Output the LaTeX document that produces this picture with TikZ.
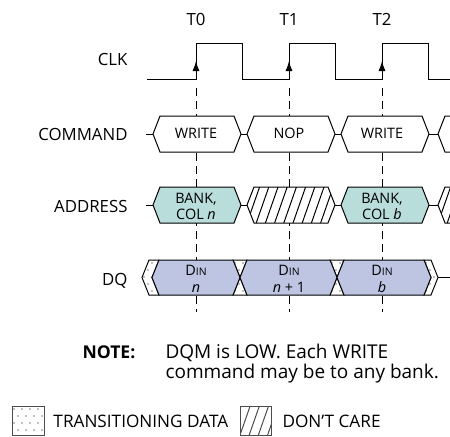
\documentclass[tikz,border=0pt]{standalone}
\usepackage{fontspec}
\setmainfont{Open Sans}
\usetikzlibrary{calc,arrows.meta}

\definecolor{addrfill}{RGB}{185,221,219}
\definecolor{dqfill}{RGB}{189,197,226}

\begin{document}
\begin{tikzpicture}[x=0.5pt,y=-0.5pt,line width=0.5pt,
    lbl/.style={font=\fontsize{8.4}{10}\selectfont, inner sep=0pt},
    intext/.style={font=\fontsize{7.2}{8}\selectfont, inner sep=0pt},
    tick/.style={dash pattern=on 4pt off 2.5pt},
    dontcare/.style={fill=white, path picture={
        \foreach \k in {-3,...,12}
          \draw ($(path picture bounding box.south west)+(\k*9.2,0)$) -- ++(14,-40);}},
    transdata/.style={fill=white, path picture={
        \foreach \i in {0,...,5} \foreach \j in {0,...,5}
          \fill[black!50] ($(path picture bounding box.north west)+({\i*8+mod(\j,2)*4+2},{\j*7+3})$) circle (0.9);}}]

  \useasboundingbox (0,0) rectangle (450,436);

  % clock
  \foreach \t [count=\i from 0] in {196,289,382}
    \node[lbl, anchor=base] (t\i) at (\t,25) {T\i};
  \draw (147,79) foreach \t in {196,289,382} { -- (\t,79) -- (\t,43) -- (\t+46,43) -- (\t+46,79) } -- (450,79);
  \foreach \t in {196,289,382} {
    \draw[-{Latex[length=5pt,width=3.5pt]}] (\t,79) -- (\t,61);
    \draw[tick] (\t,88) -- (\t,312);
  }

  % signal names
  \node[lbl, anchor=base east] (clk) at (128,65) {CLK};
  \node[lbl, anchor=base east] (cmd) at (128,140) {COMMAND};
  \node[lbl, anchor=base east] (addr) at (128,212) {ADDRESS};
  \node[lbl, anchor=base east] (dq) at (128,285) {DQ};

  % command
  \foreach \a/\b in {146/153,241/247,335/341,429/438}
    \draw (\a,134) -- (\b,134);
  \foreach \l/\r in {153/241,247/335,341/429}
    \draw[fill=white] (\l,134) -- (\l+7,116) -- (\r-7,116) -- (\r,134) -- (\r-7,152) -- (\l+7,152) -- cycle;
  \draw[fill=white] (450,116) -- (445,116) -- (438,134) -- (445,152) -- (450,152);
  \node[intext, anchor=base] (cmd0) at (196,138) {WRITE};
  \node[intext, anchor=base] (cmd1) at (289,138) {NOP};
  \node[intext, anchor=base] (cmd2) at (382,138) {WRITE};

  % address
  \foreach \a/\b in {146/153,241/247,335/341,429/438}
    \draw (\a,205) -- (\b,205);
  \foreach \l/\r in {153/241,341/429}
    \draw[fill=addrfill] (\l,205) -- (\l+7,187) -- (\r-7,187) -- (\r,205) -- (\r-7,223) -- (\l+7,223) -- cycle;
  \draw[dontcare] (247,205) -- (254,187) -- (328,187) -- (335,205) -- (328,223) -- (254,223) -- cycle;
  \draw[dontcare] (450,187) -- (445,187) -- (438,205) -- (445,223) -- (450,223);
  \node[intext, anchor=base] (adr0a) at (196,203) {BANK,};
  \node[intext, anchor=base] (adr0b) at (196,219) {COL \textit{n}};
  \node[intext, anchor=base] (adr1a) at (382,203) {BANK,};
  \node[intext, anchor=base] (adr1b) at (382,219) {COL \textit{b}};

  % data
  \draw[transdata] (142,277.5) -- (149,260) -- (159,260) -- (152,277.5) -- (159,295) -- (149,295) -- cycle;
  \foreach \c in {240,337}
    \draw[transdata] (\c-7,260) -- (\c+7,260) -- (\c-7,295) -- (\c+7,295) -- cycle;
  \draw[transdata] (424,260) -- (431,260) -- (438,277.5) -- (431,295) -- (424,295) -- (431,277.5) -- cycle;
  \draw (438,277.5) -- (450,277.5);
  \foreach \l/\r in {152/240,240/337,337/431}
    \draw[fill=dqfill] (\l,277.5) -- (\l+7,260) -- (\r-7,260) -- (\r,277.5) -- (\r-7,295) -- (\l+7,295) -- cycle;
  \foreach \t/\v [count=\i from 0] in {196/\textit{n},289/\textit{n} + 1,382/\textit{b}} {
    \node[intext, anchor=base] (din\i) at (\t,275) {D{\fontsize{5.2}{6}\selectfont IN}};
    \node[intext, anchor=base] (dv\i) at (\t,292) {\v};
  }

  % note
  \node[lbl, font=\fontsize{8.8}{10}\selectfont\bfseries, anchor=base west] (note) at (82,358) {NOTE:};
  \node[lbl, font=\fontsize{9.5}{11}\selectfont, anchor=base west] (notea) at (165,358) {DQM is LOW. Each WRITE};
  \node[lbl, font=\fontsize{9.5}{11}\selectfont, anchor=base west] (noteb) at (165,378) {command may be to any bank.};

  % legend
  \draw[transdata, draw=black!70] (12,406) rectangle (44,435);
  \node[lbl, font=\fontsize{8.6}{10}\selectfont, anchor=base west] (trans) at (53,427) {TRANSITIONING DATA};
  \draw[dontcare, draw=black!70] (240,406) rectangle (271,435);
  \node[lbl, font=\fontsize{8.6}{10}\selectfont, anchor=base west] (dc) at (282,427) {DON’T CARE};
\end{tikzpicture}
\end{document}
